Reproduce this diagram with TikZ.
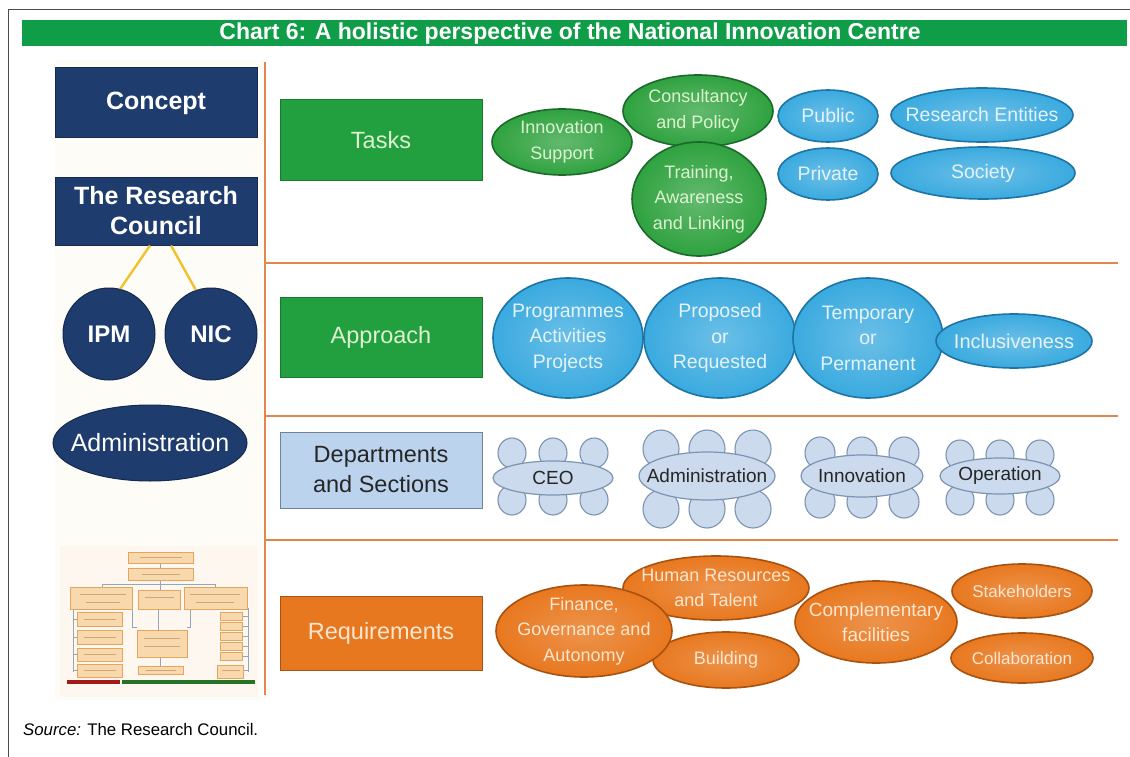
\documentclass[tikz,border=0pt]{standalone}
\usepackage{fontspec}
\setmainfont{Liberation Sans}
\usetikzlibrary{shapes.geometric}
\definecolor{titlegreen}{HTML}{0F9D48}
\definecolor{navy}{HTML}{1F3C6E}
\definecolor{navyd}{HTML}{142A4E}
\definecolor{boxgreen}{HTML}{22A040}
\definecolor{boxgreend}{HTML}{187A31}
\definecolor{txtgreen}{HTML}{DDF3CF}
\definecolor{ellgreen}{HTML}{2FA23F}
\definecolor{ellgreend}{HTML}{1B6A2B}
\definecolor{ellblue}{HTML}{3AAADF}
\definecolor{ellblued}{HTML}{1E74A6}
\definecolor{txtblue}{HTML}{E4F3FB}
\definecolor{deptblue}{HTML}{BCD3EE}
\definecolor{deptblued}{HTML}{6F8296}
\definecolor{cloudfill}{HTML}{CBDAEC}
\definecolor{cloudline}{HTML}{7C94B2}
\definecolor{orangef}{HTML}{E8781F}
\definecolor{oranged}{HTML}{A9520F}
\definecolor{txtorange}{HTML}{FCE6D0}
\definecolor{oline}{HTML}{E4864A}
\definecolor{gold}{HTML}{F2C12E}
\definecolor{panel}{HTML}{FEFCF7}
\definecolor{mini}{HTML}{F8D9AE}
\definecolor{minid}{HTML}{E6A55E}
\definecolor{minil}{HTML}{93A6BA}
\begin{document}
\begin{tikzpicture}[x=1pt,y=-1pt,
  navybox/.style={rectangle, fill=navy, draw=navyd, line width=1pt, text=white,
    font=\fontsize{25}{30}\selectfont\bfseries, align=center, inner sep=0pt,
    minimum width=202pt},
  navyround/.style={ellipse, fill=navy, draw=navyd, line width=1pt, inner sep=0pt},
  navytxt/.style={text=white, inner sep=0pt, font=\fontsize{24}{26}\selectfont\bfseries},
  rowbox/.style={rectangle, line width=1pt, inner sep=0pt, align=center,
    minimum width=202pt, font=\fontsize{23.5}{29}\selectfont},
  gbox/.style={rowbox, fill=boxgreen, draw=boxgreend, text=txtgreen},
  obox/.style={rowbox, fill=orangef, draw=oranged, text=txtorange},
  dbox/.style={rowbox, fill=deptblue, draw=deptblued, text=black!85,
    font=\fontsize{23.5}{30}\selectfont},
  ell/.style={ellipse, inner sep=0pt, line width=1.6pt},
  gell/.style={ell, draw=ellgreend, inner color=ellgreen!75!white, outer color=ellgreen},
  bell/.style={ell, draw=ellblued, inner color=ellblue!75!white, outer color=ellblue},
  oell/.style={ell, draw=oranged, inner color=orangef!80!white, outer color=orangef},
  etxt/.style={inner sep=0pt, align=center, font=\fontsize{18}{25.5}\selectfont},
  gtxt/.style={etxt, text=txtgreen},
  btxt/.style={etxt, text=txtblue},
  otxt/.style={etxt, text=txtorange},
  cloudc/.style={ellipse, inner sep=0pt, fill=cloudfill, draw=cloudline, line width=1.2pt},
  ctxt/.style={inner sep=0pt, text=black!85, font=\fontsize{19}{22}\selectfont},
  bub/.style={fill=cloudfill, draw=cloudline, line width=1.1pt},
  oln/.style={draw=oline, line width=2.6pt},
  yline/.style={draw=gold, line width=2.4pt},
  mbox/.style={fill=mini, draw=minid, line width=0.5pt},
  mline/.style={draw=minil, line width=0.8pt},
  mtxt/.style={draw=minid!80!black, line width=0.6pt}
]
\useasboundingbox (0,0) rectangle (1130,757);
\fill[white] (0,0) rectangle (1130,757);
% frame
\draw[line width=1pt, black!70] (8,757) -- (8,10) -- (1130,10);
% title bar
\fill[titlegreen] (22,20) rectangle (1127,46);
\node[text=white, inner sep=0pt, font=\fontsize{23}{24}\selectfont\bfseries] (title) at (570,33.5)
  {Chart 6: A holistic perspective of the National Innovation Centre};
% left panel background
\fill[panel] (55,60) rectangle (263,700);

% left column
\node[navybox, minimum height=70pt] (concept) at (156,103) {Concept};
\node[navybox, minimum height=68pt] (rc) at (156,211) {The Research\\Council};
\node[navyround, minimum width=92pt, minimum height=92pt] (ipm) at (109,334) {};
\node[navytxt] (ipm-t) at (ipm) {IPM};
\node[navyround, minimum width=92pt, minimum height=92pt] (nic) at (211,334) {};
\node[navytxt] (nic-t) at (nic) {NIC};
\draw[yline] ([xshift=-6pt]rc.south) -- (ipm.76);
\draw[yline] ([xshift=15pt]rc.south) -- (nic.109);
\node[navyround, minimum width=194pt, minimum height=76pt] (adminl) at (150,443) {};
\node[navytxt, font=\fontsize{25}{28}\selectfont] (adminl-t) at (adminl) {Administration};

% mini org chart
\fill[mini!20] (60,546) rectangle (258,697);
\draw[mline] (160,563) -- (160,568);
\draw[mline] (160,580) -- (160,590);
\draw[mline] (102,587) -- (102,584) -- (215,584) -- (215,587);
\draw[mline] (73,608) -- (73,672);
\foreach \yy in {619,637,654,670} \draw[mline] (73,\yy) -- (77,\yy);
\draw[mline] (158,608) -- (158,630);
\draw[mline] (132,608) -- (132,627) -- (137,627);
\draw[mline] (190,608) -- (190,627) -- (187,627);
\draw[mline] (160,657) -- (160,666);
\draw[mline] (248,608) -- (248,672);
\foreach \yy in {616,626,636,646,656,670} \draw[mline] (243,\yy) -- (248,\yy);
\filldraw[mbox] (128,552) rectangle (193,563);
\filldraw[mbox] (128,568) rectangle (193,580);
\filldraw[mbox] (70,587) rectangle (132,609);
\filldraw[mbox] (138,590) rectangle (180,609);
\filldraw[mbox] (184,587) rectangle (247,609);
\filldraw[mbox] (77,612) rectangle (122,626);
\filldraw[mbox] (77,630) rectangle (122,644);
\filldraw[mbox] (77,648) rectangle (122,661);
\filldraw[mbox] (77,664) rectangle (122,677);
\filldraw[mbox] (137,630) rectangle (187,657);
\filldraw[mbox] (138,666) rectangle (183,674);
\foreach \yy in {612,622,632,642,652} \filldraw[mbox] (220,\yy) rectangle (242,\yy+8);
\filldraw[mbox] (217,665) rectangle (243,678);
\foreach \xa/\xb/\yy in {140/182/557.5, 142/180/574, 80/126/594, 86/120/602, 145/174/597,
  190/240/594, 196/234/602, 84/116/619, 84/116/637, 84/116/654, 84/116/670,
  144/180/638, 144/180/646, 146/176/670, 222/240/670}
  \draw[mtxt, opacity=0.6] (\xa,\yy) -- (\xb,\yy);
\draw[line width=4pt, draw=red!60!black!90] (67,682) -- (120,682);
\draw[line width=4pt, draw=green!35!black!85] (122,682) -- (255,682);

% orange grid lines
\draw[oln] (265,62) -- (265,695);
\draw[oln] (265,263) -- (1118,263);
\draw[oln] (265,416) -- (1118,416);
\draw[oln] (265,540) -- (1118,540);

% row headers
\node[gbox, minimum height=80pt] (tasks) at (381,140) {Tasks};
\node[gbox, minimum height=80pt] (approach) at (381,337) {Approach};
\node[dbox, minimum height=76pt] (depts) at (381,470) {Departments\\and Sections};
\node[obox, minimum height=74pt] (req) at (381,633) {Requirements};

% Tasks row
\node[gell, minimum width=140pt, minimum height=66pt] (innov) at (562,142) {};
\node[gtxt] (innov-t) at (innov) {Innovation\\Support};
\node[gell, minimum width=150pt, minimum height=72pt] (consult) at (698,111) {};
\node[gtxt] (consult-t) at (consult) {Consultancy\\and Policy};
\node[gell, minimum width=134pt, minimum height=114pt] (train) at (699,199) {};
\node[gtxt] (train-t) at (train) {Training,\\Awareness\\and Linking};
\node[bell, minimum width=100pt, minimum height=52pt] (public) at (828,116) {};
\node[btxt, font=\fontsize{19.5}{24}\selectfont] (public-t) at (public) {Public};
\node[bell, minimum width=182pt, minimum height=54pt] (research) at (982,115) {};
\node[btxt, font=\fontsize{19.5}{24}\selectfont] (research-t) at (research) {Research Entities};
\node[bell, minimum width=100pt, minimum height=52pt] (private) at (828,174) {};
\node[btxt, font=\fontsize{19.5}{24}\selectfont] (private-t) at (private) {Private};
\node[bell, minimum width=184pt, minimum height=52pt] (society) at (983,173) {};
\node[btxt, font=\fontsize{19.5}{24}\selectfont] (society-t) at (society) {Society};

% Approach row
\node[bell, minimum width=150pt, minimum height=120pt] (prog) at (568,338) {};
\node[btxt, font=\fontsize{19.5}{25.5}\selectfont] (prog-t) at (prog) {Programmes\\Activities\\Projects};
\node[bell, minimum width=152pt, minimum height=120pt] (prop) at (720,338) {};
\node[btxt, font=\fontsize{19.5}{25.5}\selectfont] (prop-t) at (prop) {Proposed\\or\\Requested};
\node[bell, minimum width=150pt, minimum height=120pt] (temp) at (868,338) {};
\node[btxt, font=\fontsize{19.5}{25.5}\selectfont] (temp-t) at (temp) {Temporary\\or\\Permanent};
\node[bell, minimum width=156pt, minimum height=54pt] (incl) at (1014,341) {};
\node[btxt, font=\fontsize{20}{24}\selectfont] (incl-t) at (incl) {Inclusiveness};

% Departments row (clouds)
\foreach \cx/\cy/\dx/\tp/\bt/\rx/\ry in {553/478/41/25/22/14/15, 707/476/46/27/33/18/19,
  862/476/42/23/26/15/16, 1000/476/40/21/24/14/15} {
  \foreach \s in {-1,0,1} {
    \filldraw[bub] (\cx+\s*\dx,\cy-\tp) ellipse [x radius=\rx, y radius=\ry];
    \filldraw[bub] (\cx+\s*\dx,\cy+\bt) ellipse [x radius=\rx, y radius=\ry];
  }
}
\node[cloudc, minimum width=120pt, minimum height=34pt] (ceo) at (553,478) {};
\node[ctxt] (ceo-t) at (ceo) {CEO};
\node[cloudc, minimum width=136pt, minimum height=48pt] (admin) at (707,476) {};
\node[ctxt] (admin-t) at (admin) {Administration};
\node[cloudc, minimum width=122pt, minimum height=42pt] (innovd) at (862,476) {};
\node[ctxt] (innovd-t) at (innovd) {Innovation};
\node[cloudc, minimum width=120pt, minimum height=36pt] (oper) at (1000,476) {};
\node[ctxt] (oper-t) at (oper) {Operation};

% Requirements row
\node[oell, minimum width=186pt, minimum height=64pt] (hr) at (716,588) {};
\node[otxt] (hr-t) at (hr) {Human Resources\\and Talent};
\node[oell, minimum width=146pt, minimum height=56pt] (building) at (726,660) {};
\node[otxt] (building-t) at (building) {Building};
\node[oell, minimum width=176pt, minimum height=92pt] (finance) at (584,631) {};
\node[otxt] (finance-t) at (finance) {Finance,\\Governance and\\Autonomy};
\node[oell, minimum width=140pt, minimum height=54pt] (stake) at (1022,591) {};
\node[otxt, font=\fontsize{17}{20}\selectfont] (stake-t) at (stake) {Stakeholders};
\node[oell, minimum width=142pt, minimum height=50pt] (collab) at (1022,658) {};
\node[otxt, font=\fontsize{17}{20}\selectfont] (collab-t) at (collab) {Collaboration};
\node[oell, minimum width=162pt, minimum height=82pt] (compl) at (876,622) {};
\node[otxt, font=\fontsize{19}{25.5}\selectfont] (compl-t) at (compl) {Complementary\\facilities};

% source
\node[anchor=base west, font=\fontsize{16.8}{19}\selectfont, inner sep=0pt] (src) at (23,735)
  {\textit{Source:} The Research Council.};
\end{tikzpicture}
\end{document}
